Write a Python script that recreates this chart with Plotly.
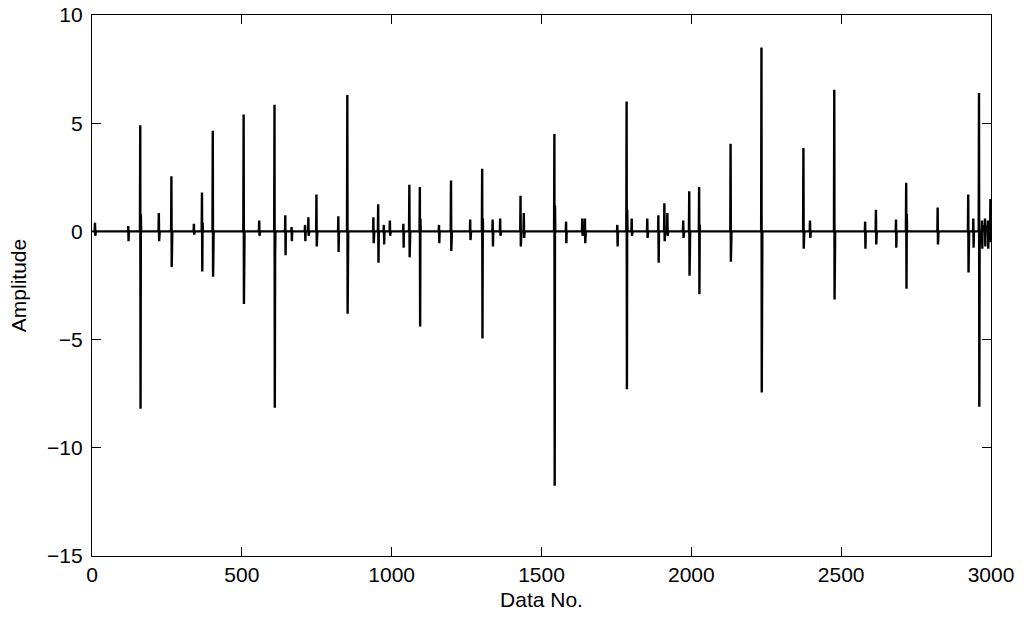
import plotly.graph_objects as go
import numpy as np

# sample count of the record
n_samples = 3000

# impulses: sample index, positive peak, negative peak,
# and the value of the sample right after the negative peak (the "fat base")
event_idx = [10, 121, 161, 223, 265, 340, 367, 403, 506, 558,
             609, 645, 666, 711, 722, 749, 822, 852, 939, 955,
             974, 994, 1039, 1059, 1094, 1158, 1198, 1262, 1302, 1337,
             1362, 1430, 1441, 1543, 1582, 1636, 1645, 1753, 1784, 1801,
             1853, 1890, 1910, 1920, 1973, 1993, 2026, 2131, 2234, 2374,
             2396, 2477, 2580, 2616, 2683, 2717, 2822, 2924, 2941, 2960,
             2970, 2980, 2990, 2998]
event_up = [0.4, 0.25, 4.9, 0.85, 2.55, 0.35, 1.8, 4.65, 5.4, 0.5,
            5.85, 0.75, 0.2, 0.3, 0.65, 1.7, 0.7, 6.3, 0.65, 1.25,
            0.3, 0.5, 0.35, 2.15, 2.05, 0.3, 2.35, 0.55, 2.9, 0.55,
            0.6, 1.65, 0.85, 4.5, 0.45, 0.6, 0.6, 0.3, 6.0, 0.6,
            0.6, 0.75, 1.3, 0.85, 0.5, 1.85, 2.05, 4.05, 8.5, 3.85,
            0.5, 6.55, 0.45, 1.0, 0.55, 2.25, 1.1, 1.7, 0.6, 6.4,
            0.5, 0.6, 0.5, 1.5]
event_down = [-0.2, -0.45, -8.2, -0.45, -1.65, -0.15, -1.85, -2.1, -3.35, -0.2,
              -8.15, -1.1, -0.45, -0.45, -0.2, -0.7, -0.95, -3.8, -0.55, -1.45,
              -0.6, -0.2, -0.75, -1.2, -4.4, -0.55, -0.9, -0.4, -4.95, -0.7,
              -0.2, -0.7, -0.3, -11.75, -0.55, -0.2, -0.55, -0.7, -7.3, -0.2,
              -0.3, -1.45, -0.45, -0.2, -0.3, -2.05, -2.9, -1.4, -7.45, -0.8,
              -0.3, -3.15, -0.8, -0.6, -0.75, -2.65, -0.6, -1.9, -0.75, -8.1,
              -0.8, -0.7, -0.8, -0.5]
event_ring = [0, 0, 0.8, 0, 0.3, 0, 0.4, 0.5, 0.3, 0,
              -1.2, 0, 0, 0, 0, 0, 0, 1.1, 0, 0,
              0, 0, 0, 0, 0.6, 0, 0, 0, 0.6, 0,
              0, 0, 0, 1.2, 0, 0, 0, 0, 1.0, 0,
              0, 0, 0, 0, 0, 0.3, 0.3, 0.3, 1.7, 0.4,
              0, 0.5, 0, 0, 0, 0.8, 0, 0, 0, -1.0,
              0.3, 0.3, 0.3, 0]

x_ticks = [0, 500, 1000, 1500, 2000, 2500, 3000]
y_ticks = [-15, -10, -5, 0, 5, 10]

data_no = np.arange( 1, n_samples + 1 )
amp = np.zeros( n_samples )
for i, up, dn, rg in zip( event_idx, event_up, event_down, event_ring ):
    amp[i - 1] = up
    if i < n_samples:
        amp[i] = dn
    if i + 1 < n_samples:
        amp[i + 1] = rg

fig = go.Figure()
fig.add_trace( go.Scatter( x=data_no, y=amp, mode="lines",
                           line={ "color" : "#000000", "width" : 2.4 },
                           showlegend=False, hoverinfo="skip" ) )

axis_style = dict( showline=True, linecolor="#000000", linewidth=1.3,
                   mirror="ticks", ticks="inside", ticklen=9, tickwidth=1.3,
                   tickcolor="#000000", showgrid=False, zeroline=False,
                   ticklabeloverflow="allow",
                   tickfont=dict( size=21, color="#000000" ) )

fig.update_xaxes( range=[0, 3000], tickvals=x_ticks,
                  title=dict( text="Data No.", font=dict( size=21, color="#000000" ), standoff=6 ),
                  **axis_style )
fig.update_yaxes( range=[-15, 10], tickvals=y_ticks, ticklabelstandoff=4,
                  title=dict( text="Amplitude", font=dict( size=21, color="#000000" ), standoff=14 ),
                  **axis_style )

fig.update_layout( width=1024, height=626,
                   plot_bgcolor="#ffffff",
                   paper_bgcolor="#ffffff",
                   hovermode=False,
                   font=dict( family="Liberation Sans, Arial, sans-serif", size=21, color="#000000" ),
                   margin={ "l" : 92, "r" : 33, "t" : 15, "b" : 70, "autoexpand" : False } )

# drop the default body margin so the figure fills the window exactly
fig.write_html( "out.html", config={ "displayModeBar" : False },
                post_script="document.body.style.margin = '0';" )
